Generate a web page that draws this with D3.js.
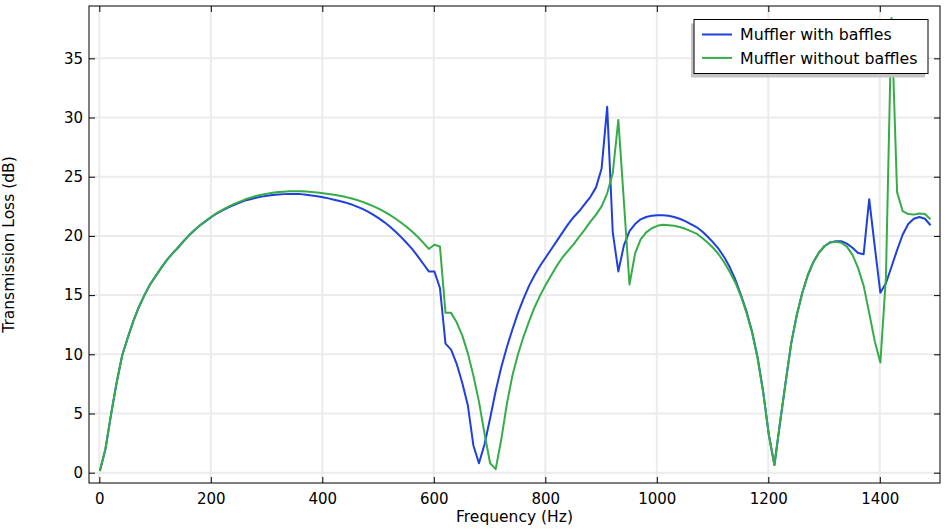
<!DOCTYPE html>
<html>
<head>
<meta charset="utf-8">
<script src="https://cdn.jsdelivr.net/npm/d3@7"></script>
<style>
  html, body { margin: 0; padding: 0; background: #fff; }
  svg { display: block; font-family: "DejaVu Sans", sans-serif; }
</style>
</head>
<body>
<svg id="chart" width="948" height="530"></svg>
<script>
// ---- data ----
const frequency = [
  1, 11, 21, 31, 41, 51, 61, 71, 81, 91,
  101, 111, 121, 131, 141, 151, 161, 171, 181, 191,
  201, 211, 221, 231, 241, 251, 261, 271, 281, 291,
  301, 311, 321, 331, 341, 351, 361, 371, 381, 391,
  401, 411, 421, 431, 441, 451, 461, 471, 481, 491,
  501, 511, 521, 531, 541, 551, 561, 571, 581, 591,
  601, 611, 621, 631, 641, 651, 661, 671, 681, 691,
  701, 711, 721, 731, 741, 751, 761, 771, 781, 791,
  801, 811, 821, 831, 841, 851, 861, 871, 881, 891,
  901, 911, 921, 931, 941, 951, 961, 971, 981, 991,
  1001, 1011, 1021, 1031, 1041, 1051, 1061, 1071, 1081, 1091,
  1101, 1111, 1121, 1131, 1141, 1151, 1161, 1171, 1181, 1191,
  1201, 1211, 1221, 1231, 1241, 1251, 1261, 1271, 1281, 1291,
  1301, 1311, 1321, 1331, 1341, 1351, 1361, 1371, 1381, 1391,
  1401, 1411, 1421, 1431, 1441, 1451, 1461, 1471, 1481, 1491
];
const withBaffles = [
  0.15, 2.0, 4.9, 7.6, 9.9, 11.4, 12.8, 14.0, 15.0, 15.9,
  16.6, 17.3, 17.95, 18.5, 19.0, 19.55, 20.05, 20.5, 20.9, 21.25,
  21.6, 21.9, 22.15, 22.4, 22.6, 22.8, 22.98, 23.1, 23.22, 23.32,
  23.4, 23.46, 23.5, 23.53, 23.55, 23.55, 23.53, 23.48, 23.42, 23.35,
  23.27, 23.17, 23.06, 22.95, 22.83, 22.68, 22.5, 22.3, 22.07, 21.8,
  21.5, 21.17, 20.8, 20.38, 19.92, 19.42, 18.9, 18.3, 17.65, 17.0,
  17.0, 15.6, 10.9, 10.4, 9.2, 7.6, 5.7, 2.3, 0.8, 2.4,
  4.6, 6.9, 8.9, 10.6, 12.1, 13.5, 14.7, 15.8, 16.7, 17.5,
  18.2, 18.9, 19.6, 20.3, 21.0, 21.6, 22.1, 22.7, 23.3, 24.1,
  25.7, 30.9, 20.3, 17.0, 19.2, 20.4, 21.0, 21.4, 21.6, 21.7,
  21.75, 21.75, 21.7, 21.6, 21.45, 21.25, 21.0, 20.75, 20.4, 19.95,
  19.45, 18.9, 18.2, 17.35, 16.3, 15.0, 13.6, 11.9, 9.7, 6.8,
  3.2, 0.65, 4.2, 7.6, 10.9, 13.3, 15.2, 16.7, 17.8, 18.6,
  19.15, 19.45, 19.55, 19.55, 19.35, 19.0, 18.55, 18.45, 23.1, 19.1,
  15.2, 16.0, 17.4, 18.8, 20.1, 21.0, 21.45, 21.6, 21.45, 20.9
];
const withoutBaffles = [
  0.15, 2.0, 4.9, 7.6, 9.9, 11.4, 12.8, 14.0, 15.0, 15.9,
  16.6, 17.3, 17.95, 18.5, 19.0, 19.55, 20.05, 20.5, 20.92, 21.28,
  21.62, 21.95, 22.2, 22.45, 22.68, 22.88, 23.07, 23.23, 23.37, 23.48,
  23.57, 23.65, 23.7, 23.74, 23.77, 23.78, 23.77, 23.75, 23.71, 23.66,
  23.6, 23.55, 23.48, 23.4, 23.3, 23.18, 23.05, 22.9, 22.72, 22.52,
  22.3, 22.05, 21.77, 21.47, 21.13, 20.77, 20.37, 19.93, 19.43, 18.9,
  19.25, 19.1, 13.5, 13.5, 12.7, 11.6, 10.1, 8.2, 6.0, 3.3,
  0.8, 0.3, 2.8, 5.8, 8.2, 10.0, 11.5, 12.8, 14.0, 15.0,
  15.9, 16.7, 17.5, 18.2, 18.75, 19.3, 19.95, 20.55, 21.2, 21.8,
  22.5, 23.6, 25.3, 29.8, 22.9, 15.9, 18.5, 19.7, 20.3, 20.65,
  20.85, 20.95, 20.9, 20.85, 20.75, 20.6, 20.4, 20.2, 19.85, 19.45,
  19.0, 18.45, 17.75, 16.95, 16.05, 14.9, 13.5, 11.8, 9.6, 6.7,
  3.2, 0.65, 4.2, 7.6, 10.9, 13.3, 15.2, 16.7, 17.8, 18.6,
  19.15, 19.45, 19.5, 19.42, 19.1, 18.4, 17.3, 15.8, 13.5, 11.1,
  9.3, 16.5, 38.4, 23.7, 22.1, 21.85, 21.8, 21.9, 21.85, 21.4
];
const seriesNames = ["Muffler with baffles", "Muffler without baffles"];
const seriesColors = ["#1f3fdf", "#35ac48"];
const xTicks = [0, 200, 400, 600, 800, 1000, 1200, 1400];
const yTicks = [0, 5, 10, 15, 20, 25, 30, 35];
const xTitle = "Frequency (Hz)";
const yTitle = "Transmission Loss (dB)";

// ---- layout ----
const W = 948, H = 530;
const plot = { left: 89, right: 940, top: 6, bottom: 483 };

const x = d3.scaleLinear().domain([-18.5, 1508]).range([plot.left, plot.right]);
const y = d3.scaleLinear().domain([-0.87, 39.42]).range([plot.bottom, plot.top]);

const svg = d3.select("#chart");
svg.append("rect").attr("width", W).attr("height", H).attr("fill", "#fff");

svg.append("defs").append("clipPath").attr("id", "clip")
  .append("rect")
  .attr("x", plot.left).attr("y", plot.top)
  .attr("width", plot.right - plot.left).attr("height", plot.bottom - plot.top);

// gridlines
const grid = svg.append("g").attr("stroke", "#ebebeb").attr("stroke-width", 2);
grid.selectAll("line.gx").data(xTicks).join("line")
  .attr("x1", d => x(d)).attr("x2", d => x(d))
  .attr("y1", plot.top).attr("y2", plot.bottom);
grid.selectAll("line.gy").data(yTicks).join("line")
  .attr("x1", plot.left).attr("x2", plot.right)
  .attr("y1", d => y(d)).attr("y2", d => y(d));

// curves
const series = [withBaffles, withoutBaffles];
const line = d3.line().x(d => x(d[0])).y(d => y(d[1]));
const curves = svg.append("g").attr("clip-path", "url(#clip)");
series.forEach((vals, i) => {
  curves.append("path")
    .datum(frequency.map((f, j) => [f, vals[j]]))
    .attr("fill", "none")
    .attr("stroke", seriesColors[i])
    .attr("stroke-width", 2)
    .attr("stroke-linejoin", "round")
    .attr("d", line);
});

// axes
const fmt = d3.format("d");
function styleAxis(g) {
  g.select(".domain").remove();
  g.selectAll(".tick line").attr("stroke", "#000").attr("stroke-width", 1);
  g.selectAll(".tick text").attr("fill", "#000").style("font-size", "15px")
    .style("font-family", "'DejaVu Sans', sans-serif");
}
svg.append("g").attr("transform", `translate(0,${plot.bottom})`)
  .call(d3.axisBottom(x).tickValues(xTicks).tickFormat(fmt).tickSize(-6).tickSizeOuter(0).tickPadding(10))
  .call(styleAxis);
svg.append("g").attr("transform", `translate(0,${plot.top})`)
  .call(d3.axisTop(x).tickValues(xTicks).tickSize(-6).tickSizeOuter(0).tickFormat(""))
  .call(styleAxis);
svg.append("g").attr("transform", `translate(${plot.left},0)`)
  .call(d3.axisLeft(y).tickValues(yTicks).tickFormat(fmt).tickSize(-6).tickSizeOuter(0).tickPadding(6))
  .call(styleAxis);
svg.append("g").attr("transform", `translate(${plot.right},0)`)
  .call(d3.axisRight(y).tickValues(yTicks).tickSize(-6).tickSizeOuter(0).tickFormat(""))
  .call(styleAxis);

// frame
svg.append("rect")
  .attr("x", plot.left).attr("y", plot.top)
  .attr("width", plot.right - plot.left).attr("height", plot.bottom - plot.top)
  .attr("fill", "none").attr("stroke", "#000").attr("stroke-width", 1);

// axis titles
svg.append("text")
  .attr("x", (plot.left + plot.right) / 2).attr("y", 522)
  .attr("text-anchor", "middle").style("font-size", "15.5px").attr("fill", "#000")
  .text(xTitle);
svg.append("text")
  .attr("transform", `translate(14,${(plot.top + plot.bottom) / 2}) rotate(-90)`)
  .attr("text-anchor", "middle").style("font-size", "15.5px").attr("fill", "#000")
  .text(yTitle);

// legend
const lg = { x: 694, y: 19.5, w: 234, h: 54 };
svg.append("rect").attr("x", lg.x - 3).attr("y", lg.y + 4)
  .attr("width", lg.w).attr("height", lg.h).attr("fill", "#c4c4c4");
svg.append("rect").attr("x", lg.x).attr("y", lg.y)
  .attr("width", lg.w).attr("height", lg.h)
  .attr("fill", "#fff").attr("stroke", "#000").attr("stroke-width", 1);
seriesNames.forEach((name, i) => {
  const yy = lg.y + 15 + i * 23.4;
  svg.append("line").attr("x1", lg.x + 8).attr("x2", lg.x + 38)
    .attr("y1", yy).attr("y2", yy)
    .attr("stroke", seriesColors[i]).attr("stroke-width", 2);
  svg.append("text").attr("x", lg.x + 46).attr("y", yy).attr("dy", "0.36em")
    .style("font-size", "15.8px").attr("fill", "#000").text(name);
});
</script>
</body>
</html>
